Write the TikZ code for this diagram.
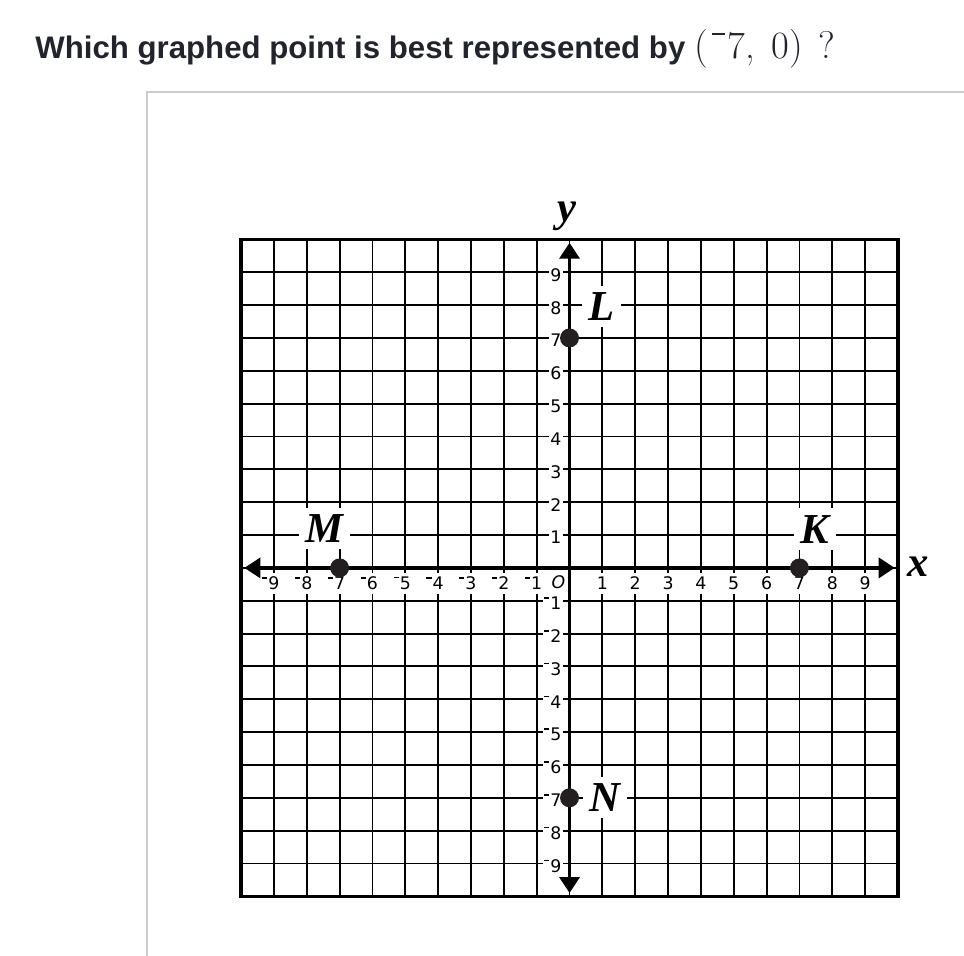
\documentclass[tikz,border=0pt]{standalone}
\usepackage{fontspec}
\newfontfamily\titlefont{Liberation Sans}
\newfontfamily\ticksfont{DejaVu Sans}
\newfontfamily\letterfont{Liberation Serif}
\usetikzlibrary{positioning}
\usetikzlibrary{arrows.meta}
\definecolor{titlegray}{HTML}{21242C}
\definecolor{framegray}{HTML}{CCCCCC}
\definecolor{dotblack}{HTML}{231F20}
\newcommand{\negsign}{\rule[0.64em]{0.3em}{0.09em}\hspace{0.06em}}
\newcommand{\supminus}{\rule[0.6em]{0.32em}{0.045em}\hspace{0.08em}}

\begin{document}
\begin{tikzpicture}[x=24.64pt,y=24.64pt,
    gridline/.style={line width=1.4pt},
    boxline/.style={line width=2.6pt},
    axisline/.style={line width=2.6pt,{Triangle[length=12pt,width=15pt]}-{Triangle[length=12pt,width=15pt]}},
    ticklab/.style={fill=white,inner xsep=1pt,inner ysep=3pt,font=\ticksfont\fontsize{13}{15}\selectfont},
    ptlabel/.style={fill=white,inner sep=5pt,font=\letterfont\bfseries\itshape\fontsize{32}{36}\selectfont},
    axlabel/.style={inner sep=0pt,font=\letterfont\bfseries\itshape\fontsize{32}{36}\selectfont},
    ptdot/.style={circle,fill=dotblack,minimum size=14.2pt,inner sep=0pt}]
    \useasboundingbox (-17.34,-11.81) rectangle (12.01,17.29);
    % question and frame
    \node[anchor=base west,text=titlegray,inner sep=0pt,font=\titlefont\bfseries\fontsize{23.4}{28}\selectfont] (question) at (-16.27,15.52)
        {Which graphed point is best represented by {\normalfont\fontsize{29}{34}\selectfont (\hspace{0.12em}\supminus7,\hspace{0.42em}0)\hspace{0.4em}?}};
    \draw[framegray,line width=1.5pt] (-12.87,-12) -- (-12.87,14.5) -- (12.2,14.5);
    % grid
    \foreach \i in {-10,...,10} {
        \draw[gridline] (\i,-10) -- (\i,10);
        \draw[gridline] (-10,\i) -- (10,\i);
    }
    \draw[boxline] (-10,-10) rectangle (10,10);
    % tick labels
    \foreach \i in {1,...,9} {
        \node[ticklab] (xp\i) at (\i,-0.47) {\i};
        \node[ticklab] (xn\i) at (-\i,-0.47) {\llap{\negsign}\i};
        \node[ticklab,anchor=east] (yp\i) at (-0.2,\i-0.08) {\i};
        \node[ticklab,anchor=east] (yn\i) at (-0.2,-\i-0.08) {\negsign\i};
    }
    \node[ticklab,font=\ticksfont\itshape\fontsize{13}{15}\selectfont] (orig) at (-0.34,-0.44) {O};
    % axes
    \coordinate (xneg) at (-9.9,0);
    \coordinate (xpos) at (9.9,0);
    \coordinate (yneg) at (0,-9.9);
    \coordinate (ypos) at (0,9.9);
    \draw[axisline] (xneg) -- (xpos);
    \draw[axisline] (yneg) -- (ypos);
    \node[axlabel] (xlab) at (10.6,0.04) {x};
    \node[axlabel] (ylab) at (-0.08,10.7) {y};
    % points
    \node[ptlabel] (Llab) at (0.98,7.96) {L};
    \node[ptlabel] (Klab) at (7.47,1.18) {K};
    \node[ptlabel] (Mlab) at (-7.47,1.2) {M};
    \node[ptlabel] (Nlab) at (1.08,-7.0) {N};
    \node[ptdot] (L) at (0,7) {};
    \node[ptdot] (K) at (7,0) {};
    \node[ptdot] (M) at (-7,0) {};
    \node[ptdot] (N) at (0,-7) {};
\end{tikzpicture}
\end{document}
